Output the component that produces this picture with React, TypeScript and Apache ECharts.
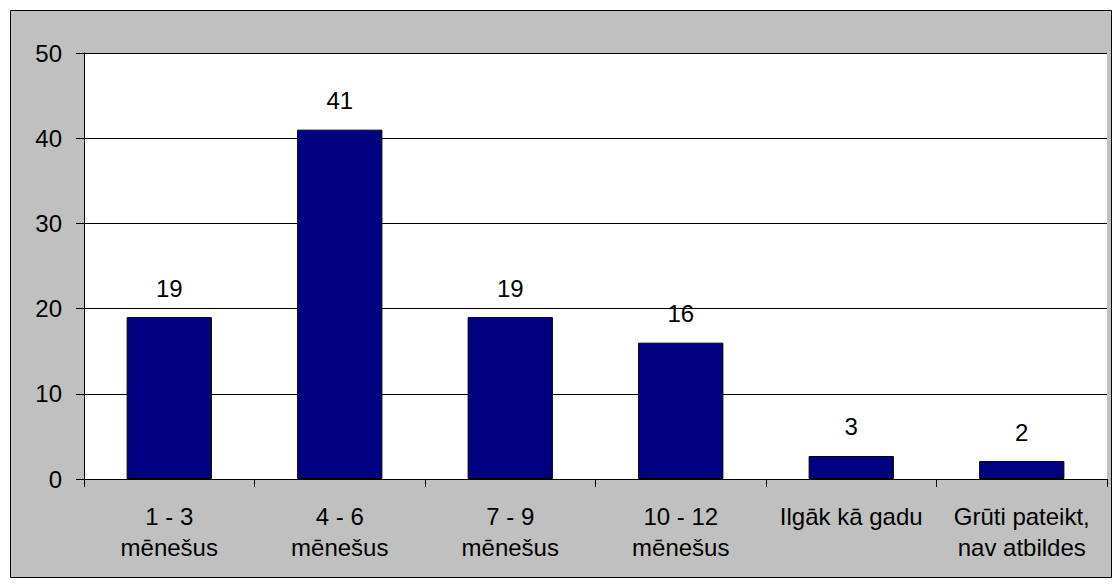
import React, { useEffect, useRef } from "react";
import * as echarts from "echarts";

const categories = [
  "1 - 3\nmēnešus",
  "4 - 6\nmēnešus",
  "7 - 9\nmēnešus",
  "10 - 12\nmēnešus",
  "Ilgāk kā gadu",
  "Grūti pateikt,\nnav atbildes",
];
const values = [19, 41, 19, 16, 2.7, 2.1];
const yTicks = { min: 0, max: 50, interval: 10 };

const FONT = "'Liberation Sans', Arial, sans-serif";

export default function App() {
  const ref = useRef<HTMLDivElement>(null);
  useEffect(() => {
    if (!ref.current) return;
    const chart = echarts.init(ref.current, null, { renderer: "svg" });
    chart.setOption({
      animation: false,
      backgroundColor: "#ffffff",
      graphic: [
        {
          type: "rect",
          z: -10,
          silent: true,
          shape: { x: 10.5, y: 10.5, width: 1101, height: 567 },
          style: { fill: "#C0C0C0", stroke: "#000000", lineWidth: 1 },
        },
      ],
      grid: {
        left: 84,
        top: 53,
        right: 7,
        bottom: 106,
        show: true,
        backgroundColor: "#ffffff",
        borderWidth: 0,
        containLabel: false,
      },
      xAxis: {
        type: "category",
        data: categories,
        axisLine: { show: true, lineStyle: { color: "#000", width: 1 } },
        axisTick: { show: true, length: 8, alignWithLabel: false, lineStyle: { color: "#000" } },
        axisLabel: {
          color: "#000",
          fontFamily: FONT,
          fontSize: 24,
          lineHeight: 31,
          margin: 22,
          interval: 0,
        },
        splitLine: { show: false },
      },
      yAxis: {
        type: "value",
        min: yTicks.min,
        max: yTicks.max,
        interval: yTicks.interval,
        axisLine: { show: true, lineStyle: { color: "#000", width: 1 } },
        axisTick: { show: true, length: 8, lineStyle: { color: "#000" } },
        axisLabel: { color: "#000", fontFamily: FONT, fontSize: 24, margin: 22 },
        splitLine: { show: true, lineStyle: { color: "#000", width: 1 } },
      },
      series: [
        {
          type: "bar",
          data: values,
          barCategoryGap: "50%",
          itemStyle: { color: "#000080", borderColor: "#000", borderWidth: 1 },
          label: {
            show: true,
            position: "top",
            distance: 17,
            color: "#000",
            fontFamily: FONT,
            fontSize: 24,
            formatter: (p: any) => String(Math.round(p.value)),
          },
        },
      ],
    });
    return () => chart.dispose();
  }, []);
  return (
    <div
      ref={ref}
      style={{ position: "absolute", left: 0, top: 0, width: 1114, height: 585 }}
    />
  );
}
